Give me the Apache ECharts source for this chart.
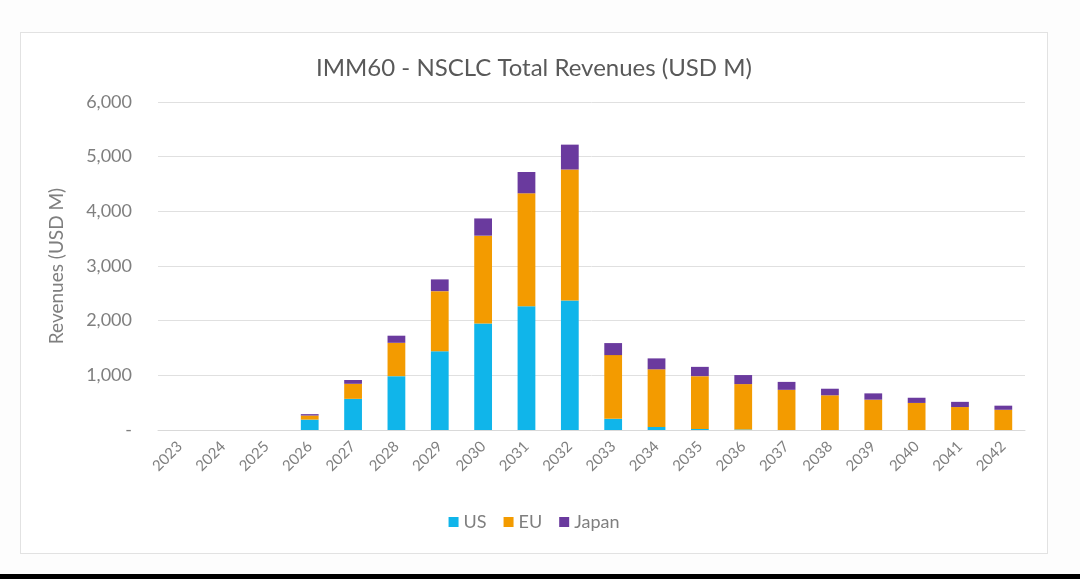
<!DOCTYPE html>
<html>
<head>
<meta charset="utf-8">
<script src="https://cdn.jsdelivr.net/npm/echarts@6/dist/echarts.min.js"></script>
<style>
  html, body {
    margin: 0;
    padding: 0;
    width: 1080px;
    height: 579px;
    background: #fdfdfd;
    overflow: hidden;
  }
  .card {
    position: absolute;
    left: 20px;
    top: 32px;
    width: 1026px;
    height: 520px;
    border: 1px solid #e2e2e2;
    background: #fff;
  }
  .main {
    width: 100%;
    height: 100%;
  }
  .band {
    position: absolute;
    left: 0;
    top: 574px;
    width: 1080px;
    height: 5px;
    background: #000;
  }
</style>
</head>
<body>
<div class="card">
  <div id="echarsDom" class="main"></div>
</div>
<div class="band"></div>
<script>
// categories
const years = [
  '2023', '2024', '2025', '2026', '2027', '2028', '2029', '2030', '2031', '2032',
  '2033', '2034', '2035', '2036', '2037', '2038', '2039', '2040', '2041', '2042',
];
// revenues by region (USD M)
const usData = [0, 0, 0, 190, 570, 985, 1440, 1950, 2265, 2370, 205, 55, 20, 10, 0, 0, 0, 0, 0, 0];
const euData = [0, 0, 0, 75, 275, 610, 1100, 1605, 2065, 2395, 1165, 1055, 965, 830, 735, 635, 555, 495, 420, 370];
const japanData = [0, 0, 0, 25, 70, 130, 215, 315, 390, 455, 220, 200, 170, 165, 145, 120, 115, 95, 95, 75];
const yTicks = [0, 1000, 2000, 3000, 4000, 5000, 6000];

const font = 'Lato, "Open Sans", sans-serif';
const grey = '#7f7f7f';

const initEchars = () => {
  const myChart = echarts.init(document.getElementById('echarsDom'));
  myChart.setOption({
    animation: false,
    title: {
      text: 'IMM60 - NSCLC Total Revenues (USD M)',
      left: 'center',
      top: 18,
      textStyle: {
        fontFamily: font,
        fontSize: 24,
        fontWeight: 'normal',
        color: '#595959',
      },
    },
    legend: {
      bottom: 17,
      left: 'center',
      icon: 'rect',
      itemWidth: 10,
      itemHeight: 10,
      itemGap: 17,
      textStyle: {
        fontFamily: font,
        fontSize: 18,
        color: grey,
      },
      data: ['US', 'EU', 'Japan'],
    },
    grid: {
      left: 137,
      right: 22,
      top: 69,
      bottom: 123,
    },
    xAxis: {
      type: 'category',
      data: years,
      axisLine: { lineStyle: { color: '#d9d9d9' } },
      axisTick: { show: false },
      axisLabel: {
        rotate: 45,
        margin: 14,
        fontFamily: font,
        fontSize: 15,
        color: grey,
      },
    },
    yAxis: {
      type: 'value',
      min: yTicks[0],
      max: yTicks[yTicks.length - 1],
      interval: 1000,
      name: 'Revenues (USD M)',
      nameLocation: 'middle',
      nameGap: 92,
      nameTextStyle: {
        fontFamily: font,
        fontSize: 19,
        color: grey,
      },
      axisLine: { show: false },
      axisTick: { show: false },
      splitLine: { lineStyle: { color: '#e0e0e0' } },
      axisLabel: {
        margin: 26,
        fontFamily: font,
        fontSize: 18,
        color: grey,
        formatter: (v) => (v === 0 ? '-' : v.toLocaleString('en-US')),
      },
    },
    series: [
      {
        name: 'US',
        type: 'bar',
        stack: 'total',
        barWidth: '41%',
        itemStyle: { color: '#10b5ea' },
        data: usData,
      },
      {
        name: 'EU',
        type: 'bar',
        stack: 'total',
        itemStyle: { color: '#f39b00' },
        data: euData,
      },
      {
        name: 'Japan',
        type: 'bar',
        stack: 'total',
        itemStyle: { color: '#6a3a9e' },
        data: japanData,
      },
    ],
  });
};
initEchars();
</script>
</body>
</html>
